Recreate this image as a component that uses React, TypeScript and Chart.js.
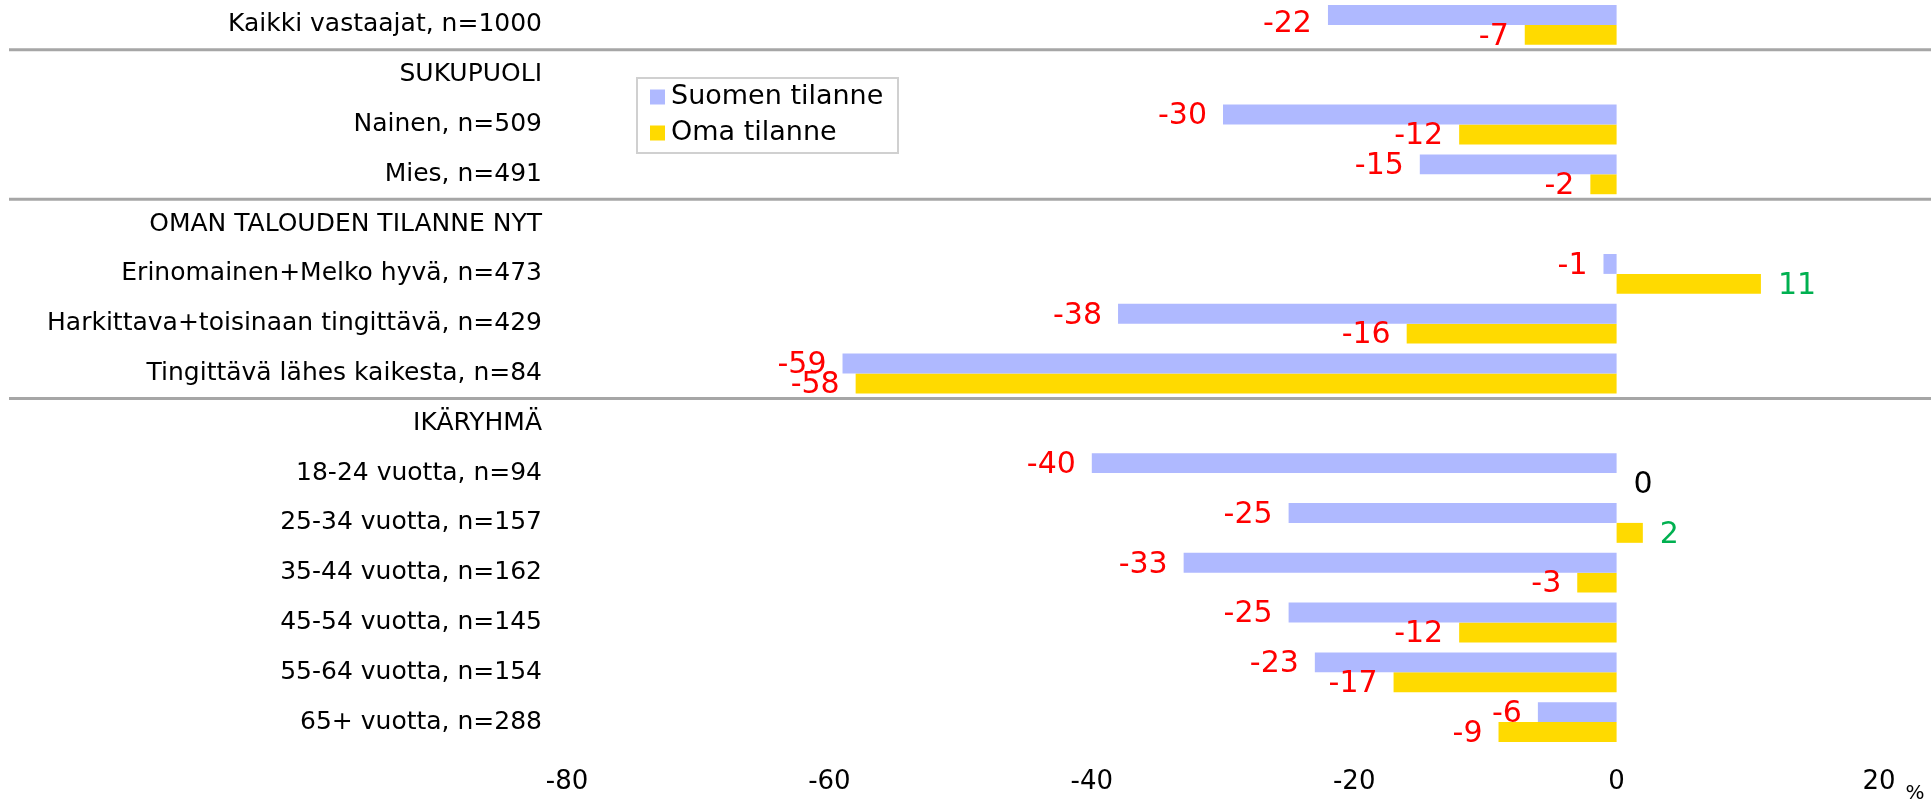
import React, { useEffect, useRef } from "react";
import { Chart, registerables } from "chart.js";

Chart.register(...registerables);

const categories = [
  "Kaikki vastaajat, n=1000",
  "SUKUPUOLI",
  "Nainen, n=509",
  "Mies, n=491",
  "OMAN TALOUDEN TILANNE NYT",
  "Erinomainen+Melko hyvä, n=473",
  "Harkittava+toisinaan tingittävä, n=429",
  "Tingittävä lähes kaikesta, n=84",
  "IKÄRYHMÄ",
  "18-24 vuotta, n=94",
  "25-34 vuotta, n=157",
  "35-44 vuotta, n=162",
  "45-54 vuotta, n=145",
  "55-64 vuotta, n=154",
  "65+ vuotta, n=288",
];
const suomenTilanne: (number | null)[] = [-22, null, -30, -15, null, -1, -38, -59, null, -40, -25, -33, -25, -23, -6];
const omaTilanne: (number | null)[] = [-7, null, -12, -2, null, 11, -16, -58, null, 0, 2, -3, -12, -17, -9];
const seriesNames = ["Suomen tilanne", "Oma tilanne"];
const seriesColors = ["#AFB9FF", "#FFDA00"];
const xTickValues = [-80, -60, -40, -20, 0, 20];
const groupStarts = [1, 4, 8];
const unitLabel = "%";

const FONT = "'DejaVu Sans', sans-serif";

const separatorPlugin = {
  id: "separators",
  beforeDatasetsDraw(chart: any) {
    const { ctx } = chart;
    const y = chart.scales.y;
    ctx.save();
    ctx.strokeStyle = "#A6A6A6";
    ctx.lineWidth = 3;
    groupStarts.forEach((i) => {
      const py = (y.getPixelForValue(i - 1) + y.getPixelForValue(i)) / 2;
      ctx.beginPath();
      ctx.moveTo(9, py);
      ctx.lineTo(chart.width, py);
      ctx.stroke();
    });
    ctx.restore();
  },
};

const valueLabelPlugin = {
  id: "valueLabels",
  afterDatasetsDraw(chart: any) {
    const { ctx } = chart;
    ctx.save();
    ctx.font = `30px ${FONT}`;
    ctx.textBaseline = "middle";
    chart.data.datasets.forEach((ds: any, di: number) => {
      const meta = chart.getDatasetMeta(di);
      meta.data.forEach((bar: any, i: number) => {
        const v = ds.data[i];
        if (v === null || v === undefined) return;
        let color = "#000000";
        if (v < 0) color = "#FF0000";
        else if (v > 0) color = "#00B050";
        ctx.fillStyle = color;
        const y = Math.max(bar.y + 2, 24);
        if (v < 0) {
          ctx.textAlign = "right";
          ctx.fillText(String(v), bar.x - 16, y);
        } else {
          ctx.textAlign = "left";
          ctx.fillText(String(v), bar.x + 17, y);
        }
      });
    });
    ctx.restore();
  },
};

const legendBoxPlugin = {
  id: "legendBox",
  afterDraw(chart: any) {
    const { ctx, chartArea } = chart;
    const bx = chartArea.left + 70;
    const by = 78;
    const bw = 261;
    const bh = 75;
    ctx.save();
    ctx.fillStyle = "#FFFFFF";
    ctx.fillRect(bx, by, bw, bh);
    ctx.strokeStyle = "#D0D0D0";
    ctx.lineWidth = 2;
    ctx.strokeRect(bx, by, bw, bh);
    ctx.font = `27px ${FONT}`;
    ctx.textBaseline = "middle";
    ctx.textAlign = "left";
    chart.data.datasets.forEach((ds: any, i: number) => {
      const cy = by + 19 + i * 36;
      ctx.fillStyle = ds.backgroundColor;
      ctx.fillRect(bx + 13, cy - 7.5, 15, 15);
      ctx.fillStyle = "#000000";
      ctx.fillText(ds.label, bx + 34, cy);
    });
    ctx.restore();
  },
};

const unitPlugin = {
  id: "unitLabel",
  afterDraw(chart: any) {
    const { ctx } = chart;
    ctx.save();
    ctx.font = `20px ${FONT}`;
    ctx.fillStyle = "#000000";
    ctx.textAlign = "center";
    ctx.textBaseline = "middle";
    ctx.fillText(unitLabel, chart.scales.x.getPixelForValue(20) + 36, 794);
    ctx.restore();
  },
};

export default function App() {
  const ref = useRef<HTMLCanvasElement | null>(null);
  useEffect(() => {
    if (!ref.current) return;
    const chart = new Chart(ref.current, {
      type: "bar",
      data: {
        labels: categories,
        datasets: [
          { label: seriesNames[0], data: suomenTilanne, backgroundColor: seriesColors[0] },
          { label: seriesNames[1], data: omaTilanne, backgroundColor: seriesColors[1] },
        ],
      },
      options: {
        indexAxis: "y",
        responsive: false,
        animation: false,
        maintainAspectRatio: false,
        layout: { padding: { top: 0, right: 52, bottom: 0, left: 0 } },
        datasets: { bar: { categoryPercentage: 0.8, barPercentage: 1.0 } },
        plugins: {
          legend: { display: false },
          tooltip: { enabled: false },
        },
        scales: {
          x: {
            type: "linear",
            min: -80,
            max: 20,
            grid: { display: false, drawTicks: false },
            border: { display: false },
            afterBuildTicks: (scale: any) => {
              scale.ticks = xTickValues.map((v) => ({ value: v }));
            },
            afterFit: (scale: any) => {
              scale.height = 57;
            },
            ticks: {
              color: "#000000",
              font: { family: FONT, size: 26 },
              padding: 20,
              maxRotation: 0,
            },
          },
          y: {
            type: "category",
            grid: { display: false, drawTicks: false },
            border: { display: false },
            afterFit: (scale: any) => {
              scale.width = 567;
              scale.paddingTop = 0;
              scale.paddingBottom = 0;
            },
            ticks: {
              color: "#000000",
              font: { family: FONT, size: 25 },
              padding: 25,
              autoSkip: false,
            },
          },
        },
      },
      plugins: [separatorPlugin, valueLabelPlugin, legendBoxPlugin, unitPlugin],
    } as any);
    return () => chart.destroy();
  }, []);
  return (
    <div style={{ position: "fixed", left: 0, top: 0, width: 1931, height: 804, background: "#fff" }}>
      <canvas ref={ref} width={1931} height={804} style={{ width: 1931, height: 804, display: "block" }} />
    </div>
  );
}
